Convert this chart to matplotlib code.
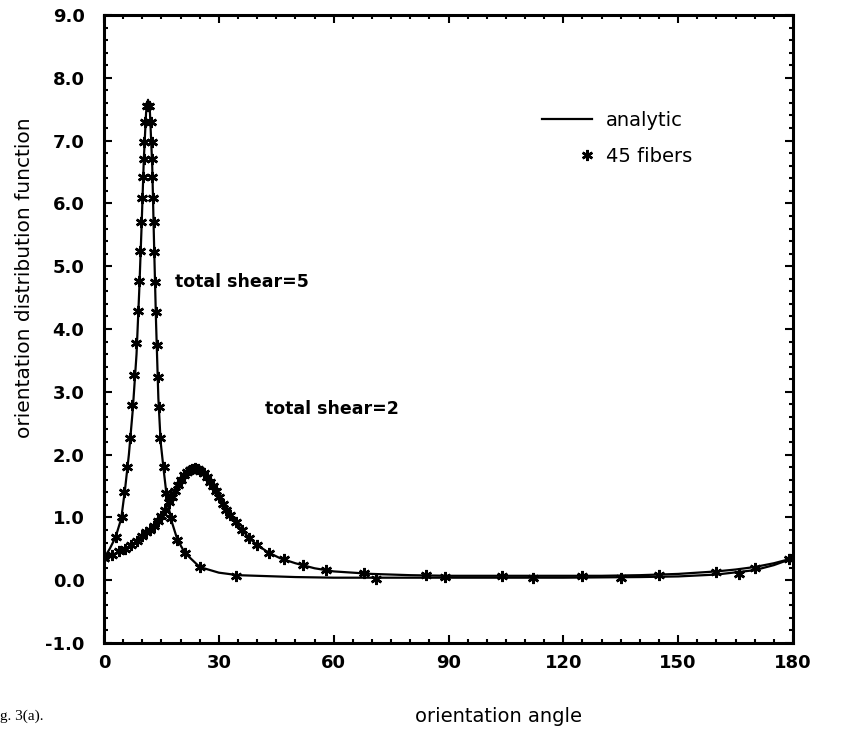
import numpy as np
import matplotlib
matplotlib.use('Agg')
import matplotlib.pyplot as plt
from matplotlib.ticker import MultipleLocator, FormatStrFormatter
from matplotlib.legend_handler import HandlerLine2D

# courbes analytiques
shear5_angle = [0, 1.5, 3, 4.5, 5.5, 6.5, 7.5, 8.5, 9.2, 9.8, 10.4, 11.0, 11.5, 12.0, 12.6,
                13.1, 13.6, 14.2, 14.8, 15.6, 16.3, 17.4, 19.2, 21.2, 25, 30, 35, 40, 50, 60,
                80, 100, 120, 140, 150, 160, 170, 175, 180]
shear5_odf = [0.35, 0.50, 0.68, 0.98, 1.45, 2.0, 2.7, 3.6, 4.6, 5.6, 6.7, 7.45, 7.65, 7.45, 6.6,
              5.3, 4.1, 2.9, 2.2, 1.75, 1.38, 0.99, 0.64, 0.43, 0.21, 0.12, 0.08, 0.07, 0.05, 0.04,
              0.04, 0.04, 0.04, 0.05, 0.06, 0.09, 0.16, 0.24, 0.35]

shear2_angle = [0, 3, 6, 9, 12, 14, 16, 18, 20, 22, 24, 26, 28, 30, 32, 34, 36, 38, 40, 43,
                46, 50, 55, 60, 70, 80, 90, 100, 110, 120, 130, 140, 150, 160, 165, 170, 175, 180]
shear2_odf = [0.35, 0.42, 0.52, 0.64, 0.80, 0.94, 1.12, 1.36, 1.60, 1.74, 1.78, 1.70, 1.53, 1.32,
              1.12, 0.96, 0.80, 0.67, 0.56, 0.44, 0.35, 0.27, 0.19, 0.14, 0.10, 0.08, 0.07, 0.07,
              0.07, 0.07, 0.07, 0.08, 0.10, 0.14, 0.17, 0.21, 0.27, 0.35]

# 45 fibres (marqueurs)
fib5_angle = [0, 3.1, 4.6, 5.3, 6.0, 6.8, 7.4, 7.9, 8.4, 8.9, 9.1, 9.3, 9.7, 10.0, 10.2, 10.4,
              10.5, 10.8, 11.3, 11.8, 12.4, 12.6, 12.6, 12.6, 12.7, 13.0, 13.1, 13.2, 13.5, 13.8,
              14.0, 14.3, 14.7, 15.6, 16.2, 17.4, 19.2, 21.2, 25.1, 34.5, 71, 89, 112, 135,
              166, 179]
fib5_odf = [0.35, 0.68, 1.0, 1.41, 1.80, 2.27, 2.79, 3.26, 3.77, 4.28, 4.77, 5.25, 5.71, 6.08,
            6.42, 6.71, 6.98, 7.30, 7.55, 7.55, 7.30, 6.98, 6.71, 6.42, 6.08, 5.70, 5.23, 4.75,
            4.27, 3.74, 3.24, 2.76, 2.26, 1.80, 1.39, 0.99, 0.64, 0.43, 0.21, 0.07, 0.02, 0.05,
            0.04, 0.04, 0.10, 0.33]

fib2_angle = [0, 2, 4, 5.5, 7, 8.5, 10, 11, 12, 13, 14, 15, 16, 17, 17.8, 18.6, 19.4, 20.2,
              21, 21.7, 22.4, 23.1, 23.8, 24.5, 25.2, 26, 26.8, 27.6, 28.4, 29.2, 30, 31, 32,
              33, 34.5, 36, 38, 40, 43, 47, 52, 58, 68, 84, 104, 125, 145, 160, 170, 180]
fib2_odf = [0.35, 0.40, 0.46, 0.50, 0.56, 0.62, 0.70, 0.76, 0.80, 0.87, 0.94, 1.03, 1.12, 1.24,
            1.33, 1.42, 1.52, 1.60, 1.68, 1.72, 1.75, 1.77, 1.78, 1.77, 1.74, 1.70, 1.64, 1.57,
            1.50, 1.42, 1.32, 1.22, 1.12, 1.04, 0.92, 0.80, 0.67, 0.56, 0.44, 0.33, 0.24, 0.16,
            0.11, 0.08, 0.07, 0.07, 0.08, 0.13, 0.20, 0.35]


# marqueur de legende place a droite de la zone du trait
class RightMarker(HandlerLine2D):
    def get_xdata(self, legend, xdescent, ydescent, width, height, fontsize):
        x0 = -xdescent + width * 0.9
        return np.array([x0, x0]), np.array([x0])


fig = plt.figure(figsize=(8.41, 7.46), dpi=100)
ax = fig.add_axes([104 / 841, 1 - 643 / 746, (793 - 104) / 841, (643 - 15) / 746])

star = (6, 2, 0)
ax.plot(shear5_angle, shear5_odf, color='black', lw=1.6, label='analytic')
ax.plot(shear2_angle, shear2_odf, color='black', lw=1.6)
fib_line, = ax.plot(fib5_angle, fib5_odf, ls='none', marker=star, ms=8, mew=1.8, color='black',
                    label='45 fibers')
ax.plot(fib2_angle, fib2_odf, ls='none', marker=star, ms=8, mew=1.8, color='black')

ax.set_xlim(0, 180)
ax.set_ylim(-1, 9)
ax.xaxis.set_major_locator(MultipleLocator(30))
ax.xaxis.set_minor_locator(MultipleLocator(5))
ax.yaxis.set_major_locator(MultipleLocator(1))
ax.yaxis.set_minor_locator(MultipleLocator(0.2))
ax.yaxis.set_major_formatter(FormatStrFormatter('%.1f'))
ax.tick_params(which='both', direction='in', top=True, right=True, width=1.5)
ax.tick_params(which='major', length=6, labelsize=13)
ax.tick_params(axis='y', pad=14)
ax.tick_params(axis='x', pad=8)
ax.tick_params(which='minor', length=3)
for lab in ax.get_xticklabels() + ax.get_yticklabels():
    lab.set_fontweight('bold')
for sp in ax.spines.values():
    sp.set_linewidth(2.2)

ax.text(18.5, 4.75, 'total shear=5', fontsize=12.5, fontweight='bold', va='center')
ax.text(42, 2.72, 'total shear=2', fontsize=12.5, fontweight='bold', va='center')

ax.legend(loc='upper left', bbox_to_anchor=(0.61, 0.875), frameon=False, fontsize=14,
          handlelength=2.6, handletextpad=0.7, labelspacing=0.85, numpoints=1,
          handler_map={fib_line: RightMarker(numpoints=1)})

fig.text(25 / 841, 1 - 278 / 746, 'orientation distribution function', rotation=90,
         ha='center', va='center', fontsize=14.5)
fig.text(498 / 841, 1 - 716 / 746, 'orientation angle', ha='center', va='center', fontsize=14)
fig.text(0, 1 - 716 / 746, 'g. 3(a).', ha='left', va='center', fontsize=11,
         family='Liberation Serif')

fig.savefig('out.png', dpi=100)
